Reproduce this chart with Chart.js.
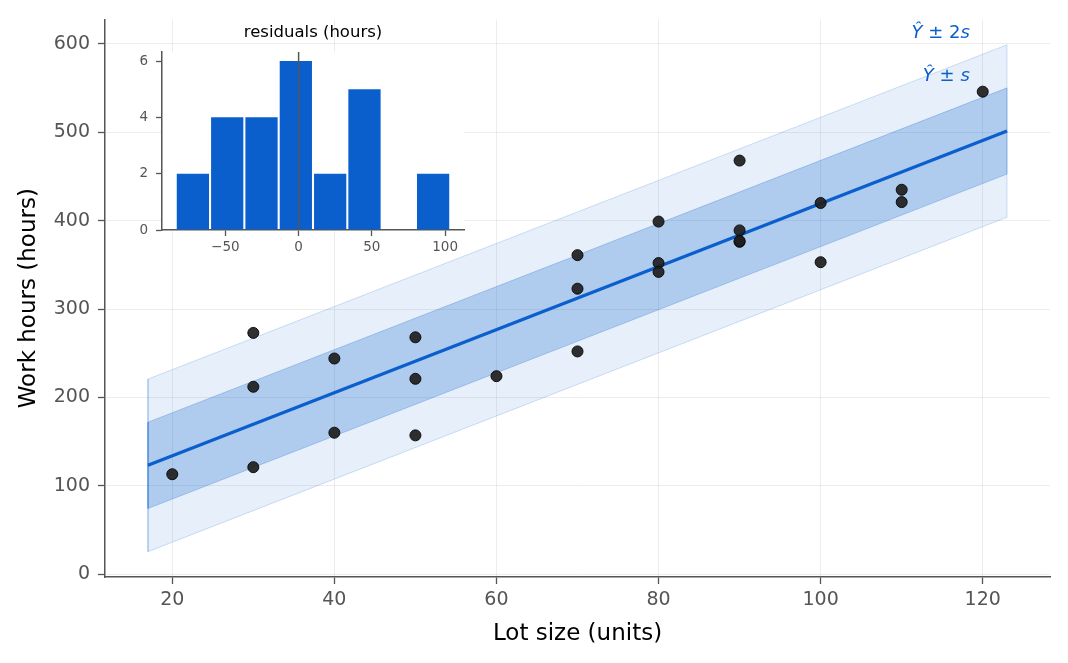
<!DOCTYPE html>
<html>
<head>
<meta charset="utf-8">
<script src="https://cdn.jsdelivr.net/npm/chart.js@4.4.1/dist/chart.umd.min.js"></script>
<style>
  body { margin: 0; background: #fff; }
  #wrap { position: relative; width: 1068px; height: 663px; }
  #inset { position: absolute; left: 110px; top: 15px; }
</style>
</head>
<body>
<div id="wrap">
  <canvas id="main" width="1068" height="663"></canvas>
  <canvas id="inset" width="370" height="255"></canvas>
</div>
<script>
// lot size (units) and work hours for each production run
const lotSize = [80, 30, 50, 90, 70, 60, 120, 80, 100, 50, 40, 70, 90, 20, 110, 100, 30, 50, 90, 110, 30, 90, 40, 80, 70];
const workHours = [399, 121, 221, 376, 361, 224, 546, 352, 353, 157, 160, 252, 389, 113, 435, 420, 212, 268, 377, 421, 273, 468, 244, 342, 323];

// fitted line and bands, at the two ends of the shaded region
const fitX = [17, 123];
const fitY = [123.1, 501.5];
const band1Lo = [74.2, 452.7];
const band1Hi = [171.9, 550.3];
const band2Lo = [25.4, 403.9];
const band2Hi = [220.7, 599.1];

// residual histogram
const binEdges = [-83.88, -60.45, -37.03, -13.60, 9.83, 33.25, 56.68, 80.10, 103.53];
const binCounts = [2, 4, 4, 6, 2, 5, 0, 2];

// ticks
const xTicks = [20, 40, 60, 80, 100, 120];
const yTicks = [0, 100, 200, 300, 400, 500, 600];
const insetXTicks = [-50, 0, 50, 100];
const insetYTicks = [0, 2, 4, 6];

const blue = '#0b5fcd';
const tickGrey = '#555';
const spine = '#555';

function polygon(lo, hi) {
  return [
    { x: fitX[0], y: lo[0] }, { x: fitX[1], y: lo[1] },
    { x: fitX[1], y: hi[1] }, { x: fitX[0], y: hi[0] }, { x: fitX[0], y: lo[0] }
  ];
}

// annotation labels drawn on top
const bandLabels = [
  { x: 118.4, y: 612, tail: '2' },
  { x: 118.4, y: 563, tail: '' }
];

const labelPlugin = {
  id: 'bandLabels',
  afterDatasetsDraw(chart) {
    const ctx = chart.ctx;
    const xs = chart.scales.x, ys = chart.scales.y;
    ctx.save();
    ctx.fillStyle = blue;
    ctx.textBaseline = 'middle';
    for (const l of bandLabels) {
      const parts = [
        ['italic 18px "DejaVu Sans"', '\u0176'],
        ['18px "DejaVu Sans"', ' \u00b1 ' + l.tail],
        ['italic 18px "DejaVu Sans"', 's']
      ];
      let w = 0;
      for (const p of parts) { ctx.font = p[0]; w += ctx.measureText(p[1]).width; }
      let px = xs.getPixelForValue(l.x) - w;
      const py = ys.getPixelForValue(l.y);
      ctx.textAlign = 'left';
      for (const p of parts) {
        ctx.font = p[0];
        ctx.fillText(p[1], px, py);
        px += ctx.measureText(p[1]).width;
      }
    }
    ctx.restore();
  }
};

new Chart(document.getElementById('main'), {
  type: 'scatter',
  data: {
    datasets: [
      {
        label: 'observed',
        data: lotSize.map((x, i) => ({ x: x, y: workHours[i] })),
        backgroundColor: 'rgba(30,30,30,0.92)',
        borderColor: 'rgba(10,10,10,0.95)',
        borderWidth: 1,
        pointRadius: 5.5,
        order: 0
      },
      {
        type: 'line',
        label: 'fit',
        data: fitX.map((x, i) => ({ x: x, y: fitY[i] })),
        borderColor: blue,
        borderWidth: 3.3,
        pointRadius: 0,
        fill: false,
        order: 1
      },
      {
        type: 'line',
        label: 'band1',
        data: polygon(band1Lo, band1Hi),
        borderColor: 'rgba(11,95,205,0.25)',
        borderWidth: 1,
        backgroundColor: 'rgba(11,95,205,0.25)',
        pointRadius: 0,
        fill: 'shape',
        order: 2
      },
      {
        type: 'line',
        label: 'band2',
        data: polygon(band2Lo, band2Hi),
        borderColor: 'rgba(11,95,205,0.18)',
        borderWidth: 1,
        backgroundColor: 'rgba(11,95,205,0.1)',
        pointRadius: 0,
        fill: 'shape',
        order: 3
      }
    ]
  },
  options: {
    responsive: false,
    animation: false,
    devicePixelRatio: 1,
    layout: { padding: { top: 18, right: 18, left: 0, bottom: 0 } },
    plugins: { legend: { display: false }, tooltip: { enabled: false } },
    scales: {
      x: {
        type: 'linear',
        min: 11.7,
        max: 128.3,
        afterFit: s => { s.height = 86; },
        afterBuildTicks: s => { s.ticks = xTicks.map(v => ({ value: v })); },
        grid: { color: 'rgba(0,0,0,0.07)', tickColor: tickGrey, tickLength: 7, tickWidth: 1.3 },
        border: { color: spine, width: 1.5 },
        ticks: { color: tickGrey, padding: 5, font: { family: 'DejaVu Sans', size: 19 } },
        title: { display: true, text: 'Lot size (units)', color: '#000', padding: { top: 0, bottom: 15 }, font: { family: 'DejaVu Sans', size: 23 } }
      },
      y: {
        type: 'linear',
        min: -3.3,
        max: 627.8,
        afterFit: s => { s.width = 105; },
        afterBuildTicks: s => { s.ticks = yTicks.map(v => ({ value: v })); },
        grid: { color: 'rgba(0,0,0,0.07)', tickColor: tickGrey, tickLength: 7, tickWidth: 1.3 },
        border: { color: spine, width: 1.5 },
        ticks: { color: tickGrey, padding: 8, font: { family: 'DejaVu Sans', size: 19 } },
        title: { display: true, text: 'Work hours (hours)', color: '#000', padding: { top: 15, bottom: 0 }, font: { family: 'DejaVu Sans', size: 23 } }
      }
    }
  },
  plugins: [labelPlugin]
});

// inset: histogram of residuals
const insetPlugin = {
  id: 'insetDecor',
  beforeDraw(chart) {
    const a = chart.chartArea, ctx = chart.ctx;
    ctx.save();
    ctx.fillStyle = '#fff';
    ctx.fillRect(a.left, a.top, a.right - a.left, a.bottom - a.top);
    ctx.restore();
  },
  afterDatasetsDraw(chart) {
    const a = chart.chartArea, ctx = chart.ctx;
    const x0 = chart.scales.x.getPixelForValue(0);
    ctx.save();
    ctx.strokeStyle = spine;
    ctx.lineWidth = 1.5;
    ctx.beginPath();
    ctx.moveTo(x0, a.top);
    ctx.lineTo(x0, a.bottom);
    ctx.stroke();
    ctx.fillStyle = '#000';
    ctx.font = '16.5px "DejaVu Sans"';
    ctx.textAlign = 'center';
    ctx.textBaseline = 'middle';
    ctx.fillText('residuals (hours)', (a.left + a.right) / 2, 18);
    ctx.restore();
  }
};

const binCenters = binCounts.map((c, i) => (binEdges[i] + binEdges[i + 1]) / 2);

new Chart(document.getElementById('inset'), {
  type: 'bar',
  data: {
    datasets: [{
      data: binCenters.map((x, i) => ({ x: x, y: binCounts[i] })),
      backgroundColor: blue,
      borderWidth: 0,
      categoryPercentage: 1,
      barPercentage: 0.94
    }]
  },
  options: {
    responsive: false,
    animation: false,
    devicePixelRatio: 1,
    layout: { padding: { top: 37, right: 16, left: 0, bottom: 0 } },
    plugins: { legend: { display: false }, tooltip: { enabled: false } },
    scales: {
      x: {
        type: 'linear',
        min: -93.25,
        max: 112.9,
        offset: false,
        afterFit: s => { s.height = 40; },
        afterBuildTicks: s => { s.ticks = insetXTicks.map(v => ({ value: v })); },
        grid: { drawOnChartArea: false, tickColor: spine, tickLength: 6, tickWidth: 1.3, offset: false },
        border: { color: spine, width: 1.5 },
        ticks: {
          color: tickGrey, padding: 3, font: { family: 'DejaVu Sans', size: 13.5 },
          callback: v => (v < 0 ? '\u2212' + Math.abs(v) : String(v))
        }
      },
      y: {
        type: 'linear',
        min: 0,
        max: 6.32,
        afterFit: s => { s.width = 52; },
        afterBuildTicks: s => { s.ticks = insetYTicks.map(v => ({ value: v })); },
        grid: { drawOnChartArea: false, tickColor: spine, tickLength: 6, tickWidth: 1.3 },
        border: { color: spine, width: 1.5 },
        ticks: { color: tickGrey, padding: 8, font: { family: 'DejaVu Sans', size: 13.5 } }
      }
    }
  },
  plugins: [insetPlugin]
});
</script>
</body>
</html>
